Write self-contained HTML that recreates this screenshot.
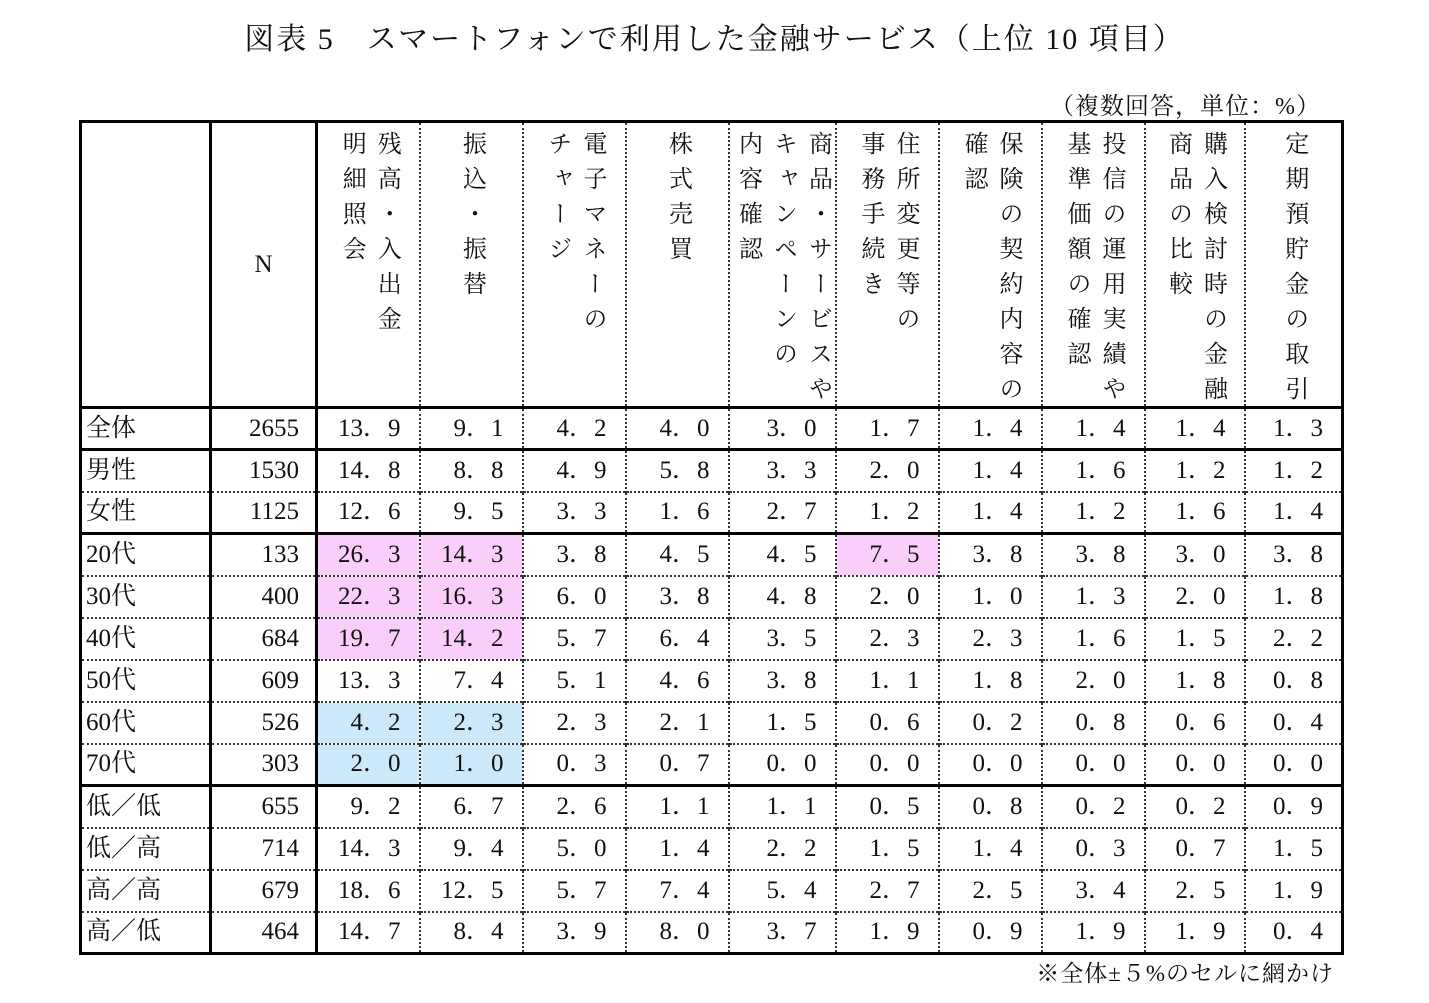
<!DOCTYPE html>
<html><head><meta charset="utf-8">
<style>
body{margin:0;background:#fff;width:1429px;height:1003px;position:relative;overflow:hidden;font-family:"Liberation Serif","Noto Serif CJK SC",serif;color:#111}
#title{position:absolute;left:0;width:1429px;top:14px;text-align:center;font-size:30px;letter-spacing:2px}
#unit{position:absolute;right:108px;top:86px;font-size:24px;letter-spacing:1px}
#note{position:absolute;right:95px;top:955px;font-size:23px;letter-spacing:1px}
table{position:absolute;left:79px;top:120px;border-collapse:collapse;table-layout:fixed;border:3px solid #000}
td{padding:0;font-size:25px;height:42px;line-height:38px;box-sizing:border-box;border-left:2px dotted #333;border-top:2px dotted #333;text-align:right;padding-right:18px;white-space:nowrap;overflow:hidden;vertical-align:middle}
td.lab{text-align:left;padding-left:4px;border-left:3px solid #000}
td.n{border-left:3px solid #000;padding-right:16px}
td.c1{border-left:3px solid #000}
tr.thick td{border-top:3px solid #000}
tr.hd td{height:286px;vertical-align:top;text-align:center;padding:0;border-top:3px solid #000;line-height:normal}
.wrap{height:280px;overflow:hidden}
.vt{writing-mode:vertical-rl;font-size:24px;line-height:35px;letter-spacing:11px;display:inline-block;margin-top:8px;text-align:left}
.pk{background:#fbcdfb}.bl{background:#cce9f9}
</style></head><body>
<div id="title">図表 5　スマートフォンで利用した金融サービス（上位 10 項目）</div>
<div id="unit">（複数回答，単位：%）</div>
<table id="tbl">
<colgroup><col style="width:130px"><col style="width:106px"><col style="width:103px"><col style="width:103px"><col style="width:103px"><col style="width:103px"><col style="width:103px"><col style="width:103px"><col style="width:103px"><col style="width:103px"><col style="width:100px"><col style="width:98px"></colgroup>
</table>
<div id="note">※全体±５%のセルに網かけ</div>
<script>
const headers=[["残高・入出金","明細照会"],["振込・振替"],["電子マネーの","チャージ"],["株式売買"],["商品・サービスや","キャンペーンの","内容確認"],["住所変更等の","事務手続き"],["保険の契約内容の","確認"],["投信の運用実績や","基準価額の確認"],["購入検討時の金融","商品の比較"],["定期預貯金の取引"]];
const rowLabels=["全体","男性","女性","20代","30代","40代","50代","60代","70代","低／低","低／高","高／高","高／低"];
const nValues=[2655,1530,1125,133,400,684,609,526,303,655,714,679,464];
const values=[
[13.9,9.1,4.2,4.0,3.0,1.7,1.4,1.4,1.4,1.3],
[14.8,8.8,4.9,5.8,3.3,2.0,1.4,1.6,1.2,1.2],
[12.6,9.5,3.3,1.6,2.7,1.2,1.4,1.2,1.6,1.4],
[26.3,14.3,3.8,4.5,4.5,7.5,3.8,3.8,3.0,3.8],
[22.3,16.3,6.0,3.8,4.8,2.0,1.0,1.3,2.0,1.8],
[19.7,14.2,5.7,6.4,3.5,2.3,2.3,1.6,1.5,2.2],
[13.3,7.4,5.1,4.6,3.8,1.1,1.8,2.0,1.8,0.8],
[4.2,2.3,2.3,2.1,1.5,0.6,0.2,0.8,0.6,0.4],
[2.0,1.0,0.3,0.7,0.0,0.0,0.0,0.0,0.0,0.0],
[9.2,6.7,2.6,1.1,1.1,0.5,0.8,0.2,0.2,0.9],
[14.3,9.4,5.0,1.4,2.2,1.5,1.4,0.3,0.7,1.5],
[18.6,12.5,5.7,7.4,5.4,2.7,2.5,3.4,2.5,1.9],
[14.7,8.4,3.9,8.0,3.7,1.9,0.9,1.9,1.9,0.4]];
const thickRows=[0,1,3,9];
const tbl=document.getElementById('tbl');
const hr=document.createElement('tr');hr.className='hd';


let c=document.createElement('td');c.className='lab';


hr.appendChild(c);
c=document.createElement('td');c.className='n';c.style.verticalAlign='middle';c.style.paddingRight='0';c.style.textAlign='center';c.textContent='N';


hr.appendChild(c);
headers.forEach((h,i)=>{const td=document.createElement('td');if(i==0)td.className='c1';


const w=document.createElement('div');w.className='wrap';
const d=document.createElement('div');d.className='vt';d.innerHTML=h.join('<br>');w.appendChild(d);td.appendChild(w);hr.appendChild(td);});
tbl.appendChild(hr);
const overall=values[0];
rowLabels.forEach((lab,r)=>{const tr=document.createElement('tr');if(thickRows.includes(r))tr.className='thick';


let a=document.createElement('td');a.className='lab';a.textContent=lab;


tr.appendChild(a);
a=document.createElement('td');a.className='n';a.textContent=nValues[r];


tr.appendChild(a);
values[r].forEach((v,i)=>{const td=document.createElement('td');if(i==0)td.className='c1';
const s=v.toFixed(1).replace('.','．');td.textContent=s;
if(r>=3&&r<=8){if(v>=overall[i]+5)td.classList.add('pk');else if(v<=overall[i]-5)td.classList.add('bl');}


tr.appendChild(td);});
tbl.appendChild(tr);});
</script>
</body></html>
